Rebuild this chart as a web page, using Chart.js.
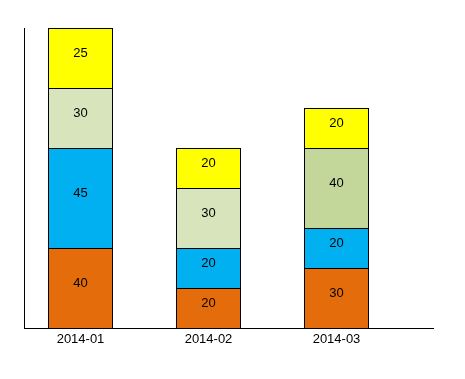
<!DOCTYPE html>
<html>
<head>
<meta charset="utf-8">
<style>
  html, body { margin: 0; padding: 0; background: #ffffff; }
  #wrap { width: 465px; height: 379px; }
</style>
<script src="https://cdn.jsdelivr.net/npm/chart.js@4/dist/chart.umd.min.js"></script>
</head>
<body>
<div id="wrap"><canvas id="c" width="465" height="379"></canvas></div>
<script>
// Categories and series (bottom to top of each stack)
const categories = ['2014-01', '2014-02', '2014-03'];
const seriesOrange = [40, 20, 30];
const seriesBlue   = [50, 20, 20];
const seriesGreen  = [30, 30, 40];
const seriesYellow = [30, 20, 20];
// Data label texts as printed on the segments
const labelsOrange = ['40', '20', '30'];
const labelsBlue   = ['45', '20', '20'];
const labelsGreen  = ['30', '30', '40'];
const labelsYellow = ['25', '20', '20'];

const FONT = '"Liberation Sans", Arial, sans-serif';

function pts(arr) { return arr.map((v, i) => ({ x: i, y: v })); }

const segLabelPlugin = {
  id: 'segLabels',
  afterDatasetsDraw(chart) {
    const ctx = chart.ctx;
    ctx.save();
    ctx.font = '13px ' + FONT;
    ctx.fillStyle = '#000000';
    ctx.textAlign = 'center';
    ctx.textBaseline = 'middle';
    chart.data.datasets.forEach((ds, di) => {
      const meta = chart.getDatasetMeta(di);
      meta.data.forEach((el, i) => {
        const mid = (el.y + el.base) / 2 - 5;
        ctx.fillText(ds.segTexts[i], el.x, mid);
      });
    });
    ctx.restore();
  }
};

const common = { borderColor: '#000000', borderWidth: 1, categoryPercentage: 1, barPercentage: 0.5078125 };

new Chart(document.getElementById('c'), {
  type: 'bar',
  data: {
    datasets: [
      Object.assign({ label: 'A', data: pts(seriesOrange), segTexts: labelsOrange, backgroundColor: '#E46C0A' }, common),
      Object.assign({ label: 'B', data: pts(seriesBlue), segTexts: labelsBlue, backgroundColor: '#00B0F0' }, common),
      Object.assign({ label: 'C', data: pts(seriesGreen), segTexts: labelsGreen, backgroundColor: ['#D8E4BC', '#D8E4BC', '#C4D79B'] }, common),
      Object.assign({ label: 'D', data: pts(seriesYellow), segTexts: labelsYellow, backgroundColor: '#FFFF00' }, common)
    ]
  },
  options: {
    responsive: false,
    animation: false,
    layout: { padding: { left: 24, right: 32, top: 28, bottom: 0 } },
    plugins: { legend: { display: false }, tooltip: { enabled: false } },
    scales: {
      x: {
        type: 'linear',
        stacked: true,
        offset: false,
        min: -0.44140625,
        max: 2.75390625,
        grid: { display: false, drawTicks: false, offset: false },
        border: { display: true, color: '#000000', width: 1 },
        afterBuildTicks(scale) { scale.ticks = categories.map((c, i) => ({ value: i })); },
        afterFit(scale) { scale.height = 51; },
        ticks: {
          color: '#000000',
          padding: 4,
          font: { family: FONT, size: 13 },
          callback: (v) => categories[v]
        }
      },
      y: {
        stacked: true,
        min: 0,
        max: 150,
        grid: { display: false, drawTicks: false },
        border: { display: true, color: '#000000', width: 1 },
        ticks: { display: false },
        afterFit(scale) { scale.width = 0; }
      }
    }
  },
  plugins: [segLabelPlugin]
});
</script>
</body>
</html>
